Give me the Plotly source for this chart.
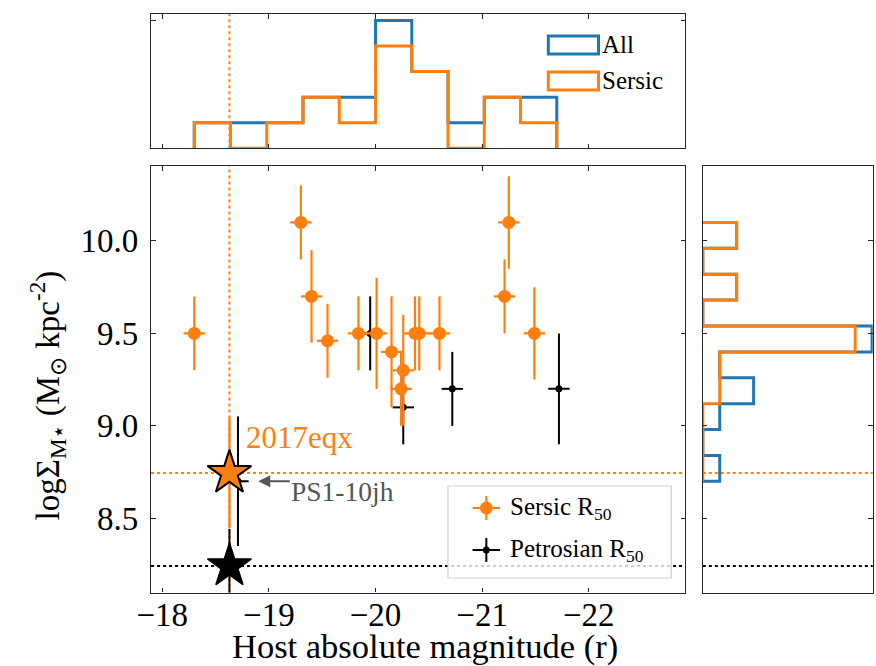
import plotly.graph_objects as go

W, H = 876, 666

# ---------------- data ----------------
sersic_mag = [-18.30, -19.30, -19.40, -19.55, -19.84, -20.01, -20.15, -20.26,
              -20.24, -20.37, -20.41, -20.60, -21.21, -21.25, -21.49]
sersic_sigma = [9.50, 10.10, 9.70, 9.46, 9.50, 9.50, 9.40, 9.30,
                9.20, 9.50, 9.50, 9.50, 9.70, 10.10, 9.50]
sersic_mag_err = [0.10, 0.10, 0.10, 0.10, 0.10, 0.10, 0.10, 0.10,
                  0.10, 0.10, 0.10, 0.10, 0.10, 0.10, 0.10]
sersic_sigma_err = [0.20, 0.20, 0.25, 0.20, 0.20, 0.30, 0.30, 0.30,
                    0.20, 0.20, 0.20, 0.20, 0.20, 0.25, 0.25]

petro_mag = [-18.71, -19.95, -20.26, -20.72, -21.72]
petro_sigma = [8.70, 9.50, 9.10, 9.20, 9.20]
petro_mag_err = [0.10, 0.10, 0.10, 0.10, 0.10]
petro_sigma_err = [0.35, 0.20, 0.20, 0.20, 0.30]

eqx_mag = [-18.63]
eqx_sigma_sersic = [8.745]
eqx_sigma_sersic_err = [0.30]
eqx_sigma_petro = [8.242]
eqx_sigma_petro_err = [0.20]

mag_edges = [-18.30, -18.64, -18.98, -19.32, -19.66, -20.00,
             -20.34, -20.68, -21.02, -21.36, -21.70]
mag_counts_all = [1, 1, 1, 2, 2, 5, 3, 1, 2, 2]
mag_counts_sersic = [1, 0, 1, 2, 1, 4, 3, 0, 2, 1]

sigma_edges = [8.70, 8.84, 8.98, 9.12, 9.26, 9.40, 9.54, 9.68, 9.82, 9.96, 10.10]
sigma_counts_all = [1, 0, 1, 3, 1, 10, 0, 2, 0, 2]
sigma_counts_sersic = [0, 0, 0, 1, 1, 9, 0, 2, 0, 2]

x_ticks = [-18, -19, -20, -21, -22]
x_ticklabels = ["\u221218", "\u221219", "\u221220", "\u221221", "\u221222"]
y_ticks = [8.5, 9.0, 9.5, 10.0]
y_ticklabels = ["8.5", "9.0", "9.5", "10.0"]

label_2017eqx = "2017eqx"
label_ps1 = "PS1-10jh"
legend_labels = ["Sersic R<sub>50</sub>", "Petrosian R<sub>50</sub>"]
hist_legend_labels = ["All", "Sersic"]
xlabel = "Host absolute magnitude (r)"
ylabel = "logΣ<sub>M⋆</sub> (M<sub>⊙</sub> kpc<sup>-2</sup>)"

# ---------------- style ----------------
ORANGE = "#ff7f0e"
BLUE = "#1f77b4"
GREY = "#555555"
SPINE = "#262626"
FONT = "Liberation Serif, Times New Roman, serif"


def px(xp):
    return xp / W


def py(yp):
    return 1 - yp / H


def step_xy(edges, counts):
    a, b = [edges[0]], [0]
    for i, c in enumerate(counts):
        a += [edges[i], edges[i + 1]]
        b += [c, c]
    a.append(edges[-1])
    b.append(0)
    return a, b


fig = go.Figure()

# Petrosian points (black)
fig.add_trace(go.Scatter(
    x=petro_mag, y=petro_sigma, mode="markers",
    marker=dict(color="black", size=7),
    error_x=dict(type="data", array=petro_mag_err, color="black", thickness=2, width=0),
    error_y=dict(type="data", array=petro_sigma_err, color="black", thickness=2, width=0),
    xaxis="x", yaxis="y", showlegend=False))

# Sersic points (orange)
fig.add_trace(go.Scatter(
    x=sersic_mag, y=sersic_sigma, mode="markers",
    marker=dict(color=ORANGE, size=13),
    error_x=dict(type="data", array=sersic_mag_err, color=ORANGE, thickness=2.2, width=0),
    error_y=dict(type="data", array=sersic_sigma_err, color=ORANGE, thickness=2.2, width=0),
    xaxis="x", yaxis="y", showlegend=False))

# 2017eqx stars
fig.add_trace(go.Scatter(
    x=eqx_mag, y=eqx_sigma_petro, mode="markers",
    marker=dict(symbol="star", color="black", size=33, line=dict(color="black", width=1.5)),
    error_y=dict(type="data", array=eqx_sigma_petro_err, color="black", thickness=2, width=0),
    xaxis="x", yaxis="y", showlegend=False))
fig.add_trace(go.Scatter(
    x=eqx_mag, y=eqx_sigma_sersic, mode="markers",
    marker=dict(symbol="star", color=ORANGE, size=33, line=dict(color="black", width=2)),
    error_y=dict(type="data", array=eqx_sigma_sersic_err, color=ORANGE, thickness=2.2, width=0),
    xaxis="x", yaxis="y", showlegend=False))

# top histogram (magnitude)
hx, hy = step_xy(mag_edges, mag_counts_all)
fig.add_trace(go.Scatter(x=hx, y=hy, mode="lines", line=dict(color=BLUE, width=3),
                         xaxis="x2", yaxis="y2", showlegend=False))
hx, hy = step_xy(mag_edges, mag_counts_sersic)
fig.add_trace(go.Scatter(x=hx, y=hy, mode="lines", line=dict(color=ORANGE, width=3),
                         xaxis="x2", yaxis="y2", showlegend=False))

# right histogram (surface density)
hy2, hx2 = step_xy(sigma_edges, sigma_counts_all)
fig.add_trace(go.Scatter(x=hx2, y=hy2, mode="lines", line=dict(color=BLUE, width=3),
                         xaxis="x3", yaxis="y3", showlegend=False))
hy2, hx2 = step_xy(sigma_edges, sigma_counts_sersic)
fig.add_trace(go.Scatter(x=hx2, y=hy2, mode="lines", line=dict(color=ORANGE, width=3),
                         xaxis="x3", yaxis="y3", showlegend=False))

shapes = []
# reference lines
for xr, yr in [("x", "y domain"), ("x2", "y2 domain")]:
    shapes.append(dict(type="line", xref=xr, yref=yr, x0=eqx_mag[0], x1=eqx_mag[0], y0=0, y1=1,
                       line=dict(color=ORANGE, width=2, dash="dot"), layer="below"))
for xr, yr in [("x domain", "y"), ("x3 domain", "y3")]:
    shapes.append(dict(type="line", xref=xr, yref=yr, x0=0, x1=1,
                       y0=eqx_sigma_sersic[0], y1=eqx_sigma_sersic[0],
                       line=dict(color=ORANGE, width=2, dash="dot"), layer="below"))
    shapes.append(dict(type="line", xref=xr, yref=yr, x0=0, x1=1,
                       y0=eqx_sigma_petro[0], y1=eqx_sigma_petro[0],
                       line=dict(color="black", width=2, dash="dot"), layer="below"))

# main legend box
shapes.append(dict(type="rect", xref="paper", yref="paper",
                   x0=px(441), x1=px(668), y0=py(578), y1=py(486),
                   line=dict(color="#d0d0d0", width=1.2),
                   fillcolor="rgba(255,255,255,0.8)", layer="above"))
# legend icons
for (cy, col, msz, th) in [(508, ORANGE, 13, 2.2), (550, "black", 7, 2)]:
    shapes.append(dict(type="line", xref="paper", yref="paper",
                       x0=px(466), x1=px(494), y0=py(cy), y1=py(cy),
                       line=dict(color=col, width=th), layer="above"))
    shapes.append(dict(type="line", xref="paper", yref="paper",
                       x0=px(480), x1=px(480), y0=py(cy - 12), y1=py(cy + 12),
                       line=dict(color=col, width=th), layer="above"))
    shapes.append(dict(type="circle", xref="paper", yref="paper",
                       x0=px(480 - msz / 2), x1=px(480 + msz / 2),
                       y0=py(cy + msz / 2), y1=py(cy - msz / 2),
                       fillcolor=col, line=dict(color=col, width=0), layer="above"))
# histogram legend patches
for (y0p, y1p, col) in [(36, 54, BLUE), (72, 90, ORANGE)]:
    shapes.append(dict(type="rect", xref="paper", yref="paper",
                       x0=px(543), x1=px(594), y0=py(y1p), y1=py(y0p),
                       line=dict(color=col, width=3), fillcolor="rgba(0,0,0,0)", layer="above"))

annotations = [
    dict(text=xlabel, xref="paper", yref="paper", x=px(418), y=py(646),
         xanchor="center", yanchor="middle", showarrow=False,
         font=dict(family=FONT, size=34.5, color="black")),
    dict(text=ylabel, xref="paper", yref="paper", x=px(34), y=py(395),
         xanchor="center", yanchor="middle", textangle=-90, showarrow=False,
         font=dict(family=FONT, size=33, color="black")),
    dict(text=label_2017eqx, xref="paper", yref="paper", x=px(234), y=py(437),
         xanchor="left", yanchor="middle", showarrow=False,
         font=dict(family=FONT, size=31, color=ORANGE)),
    dict(text=label_ps1, xref="paper", yref="paper", x=px(279), y=py(491),
         xanchor="left", yanchor="middle", showarrow=False,
         font=dict(family=FONT, size=27.5, color=GREY)),
    dict(text="", xref="x", yref="y", x=-18.90, y=8.70, ax=33, ay=0,
         showarrow=True, arrowhead=2, arrowsize=1.2, arrowwidth=2, arrowcolor=GREY),
    dict(text=legend_labels[0], xref="paper", yref="paper", x=px(502), y=py(508),
         xanchor="left", yanchor="middle", showarrow=False,
         font=dict(family=FONT, size=25, color="black")),
    dict(text=legend_labels[1], xref="paper", yref="paper", x=px(502), y=py(550),
         xanchor="left", yanchor="middle", showarrow=False,
         font=dict(family=FONT, size=25, color="black")),
    dict(text=hist_legend_labels[0], xref="paper", yref="paper", x=px(596), y=py(45),
         xanchor="left", yanchor="middle", showarrow=False,
         font=dict(family=FONT, size=25, color="black")),
    dict(text=hist_legend_labels[1], xref="paper", yref="paper", x=px(596), y=py(81),
         xanchor="left", yanchor="middle", showarrow=False,
         font=dict(family=FONT, size=25, color="black")),
]

axis_common = dict(showline=True, linecolor=SPINE, linewidth=1.3, mirror="ticks",
                   ticks="inside", ticklen=4.5, tickwidth=1.3, tickcolor=SPINE,
                   showgrid=False, zeroline=False)

dom_x_main = [px(139.3), px(682.3)]
dom_y_main = [py(592.5), py(166)]

fig.update_layout(
    width=W, height=H, margin=dict(l=0, r=0, t=0, b=0),
    paper_bgcolor="white", plot_bgcolor="white",
    font=dict(family=FONT, size=33, color="black"),
    showlegend=False,
    xaxis=dict(domain=dom_x_main, anchor="y", range=[-17.895, -22.906],
               tickmode="array", tickvals=x_ticks, ticktext=x_ticklabels,
               tickfont=dict(family=FONT, size=33), ticklabelstandoff=-7, **axis_common),
    yaxis=dict(domain=dom_y_main, anchor="x", range=[8.099, 10.405],
               tickmode="array", tickvals=y_ticks, ticktext=y_ticklabels,
               tickfont=dict(family=FONT, size=33), ticklabelstandoff=5, **axis_common),
    xaxis2=dict(domain=dom_x_main, anchor="y2", matches="x", range=[-17.895, -22.906],
                tickmode="array", tickvals=x_ticks, showticklabels=False, **axis_common),
    yaxis2=dict(domain=[py(148.3), py(14)], anchor="x2", range=[0, 5.25],
                tickmode="array", tickvals=[0, 5], showticklabels=False, **axis_common),
    xaxis3=dict(domain=[px(700), px(872.7)], anchor="y3", range=[0, 10.04],
                tickmode="array", tickvals=[0, 10], showticklabels=False, **axis_common),
    yaxis3=dict(domain=dom_y_main, anchor="x3", matches="y", range=[8.099, 10.405],
                tickmode="array", tickvals=y_ticks, showticklabels=False, **axis_common),
    shapes=shapes,
    annotations=annotations,
)

fig.write_html("out.html")
